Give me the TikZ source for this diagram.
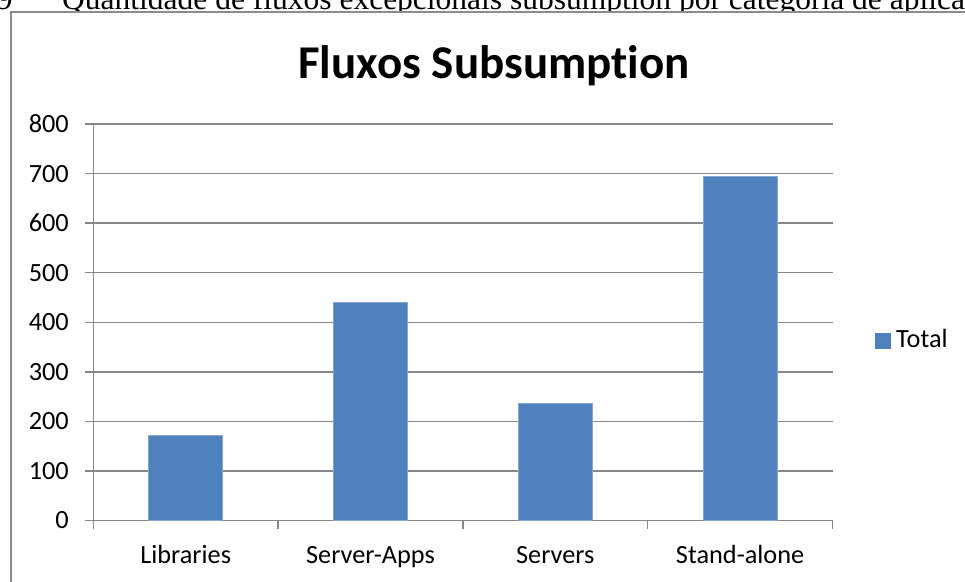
\documentclass[tikz,border=0pt]{standalone}
\usepackage{fontspec}
\setmainfont{Liberation Serif}
\newfontfamily\chartfont[Ligatures=NoCommon]{Carlito}
\definecolor{barblue}{HTML}{4F81BD}
\definecolor{gridgray}{HTML}{868686}
\definecolor{framegray}{HTML}{8C8C8C}
\begin{document}
\begin{tikzpicture}[x=1pt,y=-1pt,
  caption/.style={font=\fontsize{31.5}{36}\selectfont, inner sep=0pt},
  charttitle/.style={font=\chartfont\bfseries\fontsize{47}{52}\selectfont, inner sep=0pt},
  ticklabel/.style={font=\chartfont\fontsize{26.3}{30}\selectfont, inner sep=0pt, anchor=east},
  catlabel/.style={font=\chartfont\fontsize{26.3}{30}\selectfont, inner sep=0pt, anchor=base},
  gridline/.style={draw=gridgray, line width=1.5pt},
  bar/.style={fill=barblue, draw=barblue!70!white, line width=0.6pt},
]
\useasboundingbox (0,0) rectangle (965,581);
\fill[white] (0,0) rectangle (965,581);

% figure caption above the chart (partly hidden by the chart area)
\node[caption, anchor=base west] (capnum) at (-19,9) {29};
\node[caption, anchor=base west] (captext) at (62,9) {Quantidade de fluxos excepcionais subsumption por categoria de aplicação};

% chart area with its frame
\fill[white] (11,12) rectangle (975,590);
\draw[framegray, line width=1.5pt] (11,590) -- (11,12) -- (975,12);

% title
\node[charttitle, anchor=base] (title) at (494,78) {Fluxos Subsumption};

% value axis: 0 at y=520.5, 800 at y=124
\foreach \v in {0,100,...,800}{
  \pgfmathsetmacro{\yy}{520.5-\v*0.4956}
  \draw[gridline] (85,\yy) -- (832.5,\yy);
  \node[ticklabel] (tick\v) at (69,\yy) {\v};
}
\draw[gridline] (93.3,124) -- (93.3,529);

% category boundary ticks
\foreach \xx in {278.1,462.9,647.7,832.5}{
  \draw[gridline] (\xx,520.5) -- (\xx,529);
}

% bars
\foreach \c/\v in {185.7/171,370.5/440,555.3/237,740.1/695}{
  \pgfmathsetmacro{\yy}{520.5-\v*0.4956}
  \fill[bar] (\c-37,520.5) rectangle (\c+37,\yy);
}

% category labels
\node[catlabel] (libraries) at (185.7,563) {Libraries};
\node[catlabel] (serverapps) at (370.5,563) {Server-Apps};
\node[catlabel] (servers) at (555.3,563) {Servers};
\node[catlabel] (standalone) at (740.1,563) {Stand-alone};

% legend
\fill[barblue] (875,333) rectangle (891,349);
\node[catlabel, anchor=base west] (legend) at (896,347.5) {Total};
\end{tikzpicture}
\end{document}
